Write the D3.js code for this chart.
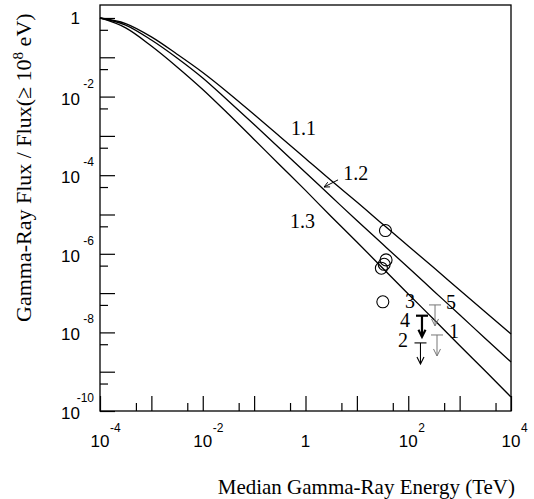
<!DOCTYPE html>
<html>
<head>
<meta charset="utf-8">
<script src="https://cdn.jsdelivr.net/npm/d3@7"></script>
<style>
  html, body { margin: 0; padding: 0; background: #fff; }
  svg { display: block; }
  .tick-label { font-family: "Liberation Sans", Arial, sans-serif; font-size: 17px; fill: #000; }
  .tick-sup { font-family: "Liberation Sans", Arial, sans-serif; font-size: 12px; fill: #000; }
  .title, .note { font-family: "Liberation Serif", "Times New Roman", serif; fill: #000; }
</style>
</head>
<body>
<svg id="chart" width="534" height="499"></svg>
<script>
var energyTeV = [1e-4, 3.16e-4, 1e-3, 3.16e-3, 1e-2, 3.16e-2, 0.1, 0.316, 1, 3.16, 10, 31.6, 100, 316, 1000, 3160, 1e4];
// flux ratio for the three spectral indices
var flux11 = [1, 0.72, 0.33, 0.12, 0.041, 0.0124, 3.5e-3, 9.7e-4, 2.66e-4, 7.3e-5, 2.08e-5, 5.7e-6, 1.58e-6, 4.4e-7, 1.2e-7, 3.3e-8, 9.1e-9];
var flux12 = [1, 0.66, 0.275, 0.096, 0.0297, 7.7e-3, 1.95e-3, 4.8e-4, 1.17e-4, 2.87e-5, 7.0e-6, 1.77e-6, 4.46e-7, 1.12e-7, 2.81e-8, 7.0e-9, 1.77e-9];
var flux13 = [1, 0.56, 0.194, 0.057, 0.0152, 3.6e-3, 8.1e-4, 1.82e-4, 4.1e-5, 8.9e-6, 2.0e-6, 4.36e-7, 9.5e-8, 2.13e-8, 4.65e-9, 1.04e-9, 2.27e-10];
var curveNames = ["1.1", "1.2", "1.3"];

// detections (open circles)
var detE = [36, 37, 34, 30, 32];
var detF = [3.9e-6, 7.0e-7, 5.4e-7, 4.3e-7, 6.0e-8];

// upper limits
var ulId = ["5", "4", "1", "2"];
var ulE = [332, 185, 363, 173];
var ulF = [5.0e-8, 2.66e-8, 8.6e-9, 5.4e-9];

// source labels (text anchor, data coords)
var srcLabel = ["3", "5", "4", "1", "2"];
var srcLabelE = [86, 540, 69, 620, 63];
var srcLabelF = [4.2e-8, 3.9e-8, 1.37e-8, 7.2e-9, 4.2e-9];

// curve labels
var curveLabelE = [0.52, 5.4, 0.50];
var curveLabelF = [1.05e-3, 7.6e-5, 4.5e-6];

// axis ticks
var xMajor = [1e-4, 1e-3, 1e-2, 1e-1, 1, 10, 100, 1000, 1e4];
var xMinor = [5e-4, 5e-3, 5e-2, 0.5, 5, 50, 500, 5000];
var xLabelMantissa = ["10", "", "10", "", "1", "", "10", "", "10"];
var xLabelExp = ["-4", "", "-2", "", "", "", "2", "", "4"];
var yMajor = [1, 1e-1, 1e-2, 1e-3, 1e-4, 1e-5, 1e-6, 1e-7, 1e-8, 1e-9, 1e-10];
var yMinor = [0.5, 5e-2, 5e-3, 5e-4, 5e-5, 5e-6, 5e-7, 5e-8, 5e-9, 5e-10];
var yLabelValues = [1, 1e-2, 1e-4, 1e-6, 1e-8, 1e-10];
var yLabelExp = ["", "-2", "-4", "-6", "-8", "-10"];

var margin = {left: 100, top: 5, right: 23, bottom: 88};
var width = 534 - margin.left - margin.right;
var height = 499 - margin.top - margin.bottom;

var svg = d3.select("#chart");
var g = svg.append("g").attr("transform", "translate(" + margin.left + "," + margin.top + ")");

var x = d3.scaleLog().domain([1e-4, 1e4]).range([0, width]);
var y = d3.scaleLog().domain([1e-10, 2.14]).range([height, 0]);

// ticks, drawn inward
function drawTicks(axis, cls, transform) {
    var a = g.append("g").attr("class", cls).attr("transform", transform).call(axis);
    a.select(".domain").remove();
    a.selectAll("line").attr("stroke", "#000").attr("stroke-width", 1.2);
}
drawTicks(d3.axisBottom(x).tickValues(xMajor).tickSizeInner(-15).tickSizeOuter(0).tickFormat(""), "x-major", "translate(0," + height + ")");
drawTicks(d3.axisBottom(x).tickValues(xMinor).tickSizeInner(-8).tickSizeOuter(0).tickFormat(""), "x-minor", "translate(0," + height + ")");
drawTicks(d3.axisLeft(y).tickValues(yMajor).tickSizeInner(-15).tickSizeOuter(0).tickFormat(""), "y-major", null);
drawTicks(d3.axisLeft(y).tickValues(yMinor).tickSizeInner(-8).tickSizeOuter(0).tickFormat(""), "y-minor", null);

// frame
g.append("rect")
    .attr("width", width).attr("height", height)
    .attr("fill", "none").attr("stroke", "#000").attr("stroke-width", 1.3);

// x tick labels
xMajor.forEach(function(v, i) {
    if (!xLabelMantissa[i]) return;
    g.append("text").attr("class", "tick-label")
        .attr("x", x(v)).attr("y", height + 36)
        .attr("text-anchor", "middle").text(xLabelMantissa[i]);
    if (xLabelExp[i]) {
        g.append("text").attr("class", "tick-sup")
            .attr("x", x(v) + 10).attr("y", height + 21)
            .text(xLabelExp[i]);
    }
});

// y tick labels
yLabelValues.forEach(function(v, i) {
    if (!yLabelExp[i]) {
        g.append("text").attr("class", "tick-label")
            .attr("x", -20).attr("y", y(v) + 6)
            .attr("text-anchor", "end").text("1");
        return;
    }
    g.append("text").attr("class", "tick-label")
        .attr("x", -20).attr("y", y(v) + 8)
        .attr("text-anchor", "end").text("10");
    g.append("text").attr("class", "tick-sup")
        .attr("x", -6).attr("y", y(v) - 9)
        .attr("text-anchor", "end").text(yLabelExp[i]);
});

// curves
var line = d3.line()
    .x(function(d) { return x(d[0]); })
    .y(function(d) { return y(d[1]); })
    .curve(d3.curveMonotoneX);

[flux11, flux12, flux13].forEach(function(series) {
    g.append("path")
        .datum(d3.zip(energyTeV, series))
        .attr("d", line)
        .attr("fill", "none").attr("stroke", "#000").attr("stroke-width", 1.3);
});

// curve labels
curveNames.forEach(function(name, i) {
    g.append("text").attr("class", "note")
        .attr("x", x(curveLabelE[i])).attr("y", y(curveLabelF[i]))
        .attr("font-size", 20).text(name);
});

// little arrow from the 1.2 label to its curve
var arrowFrom = [4.3, 7.6e-5], arrowTo = [2.3, 5.0e-5];
var ax0 = x(arrowFrom[0]), ay0 = y(arrowFrom[1]), ax1 = x(arrowTo[0]), ay1 = y(arrowTo[1]);
var ang = Math.atan2(ay1 - ay0, ax1 - ax0);
g.append("line").attr("x1", ax0).attr("y1", ay0).attr("x2", ax1).attr("y2", ay1)
    .attr("stroke", "#000").attr("stroke-width", 1);
g.append("path")
    .attr("d", "M" + (ax1 - 6 * Math.cos(ang - 0.45)) + "," + (ay1 - 6 * Math.sin(ang - 0.45)) +
        "L" + ax1 + "," + ay1 +
        "L" + (ax1 - 6 * Math.cos(ang + 0.45)) + "," + (ay1 - 6 * Math.sin(ang + 0.45)))
    .attr("fill", "none").attr("stroke", "#000").attr("stroke-width", 1);

// detections
g.selectAll("circle.det")
    .data(d3.zip(detE, detF))
    .enter().append("circle")
    .attr("class", "det")
    .attr("cx", function(d) { return x(d[0]); })
    .attr("cy", function(d) { return y(d[1]); })
    .attr("r", 6)
    .attr("fill", "none").attr("stroke", "#000").attr("stroke-width", 1.1);

// upper limits
var ulStyle = {"5": ["#777", 1], "4": ["#000", 2.2], "1": ["#777", 1], "2": ["#000", 1.1]};
ulId.forEach(function(id, i) {
    var cx = x(ulE[i]), cy = y(ulF[i]);
    var col = ulStyle[id][0], sw = ulStyle[id][1];
    var ul = g.append("g").attr("class", "ul").attr("stroke", col).attr("stroke-width", sw).attr("fill", "none");
    ul.append("line").attr("x1", cx - 6).attr("x2", cx + 6).attr("y1", cy).attr("y2", cy);
    ul.append("line").attr("x1", cx).attr("x2", cx).attr("y1", cy).attr("y2", cy + 21);
    ul.append("path").attr("d", "M" + (cx - 3.5) + "," + (cy + 14) + "L" + cx + "," + (cy + 21) + "L" + (cx + 3.5) + "," + (cy + 14));
});

// source labels
srcLabel.forEach(function(s, i) {
    g.append("text").attr("class", "note")
        .attr("x", x(srcLabelE[i])).attr("y", y(srcLabelF[i]))
        .attr("font-size", 20).text(s);
});

// axis titles
svg.append("text").attr("class", "title")
    .attr("x", 515).attr("y", 494)
    .attr("text-anchor", "end").attr("font-size", 21)
    .text("Median Gamma-Ray Energy (TeV)");

var yt = svg.append("text").attr("class", "title")
    .attr("transform", "translate(31,322) rotate(-90)")
    .attr("text-anchor", "start").attr("font-size", 22);
yt.append("tspan").text("Gamma-Ray Flux / Flux(\u2265 10");
yt.append("tspan").attr("font-size", 15).attr("dy", -8).text("8");
yt.append("tspan").attr("dy", 8).text(" eV)");
</script>
</body>
</html>
